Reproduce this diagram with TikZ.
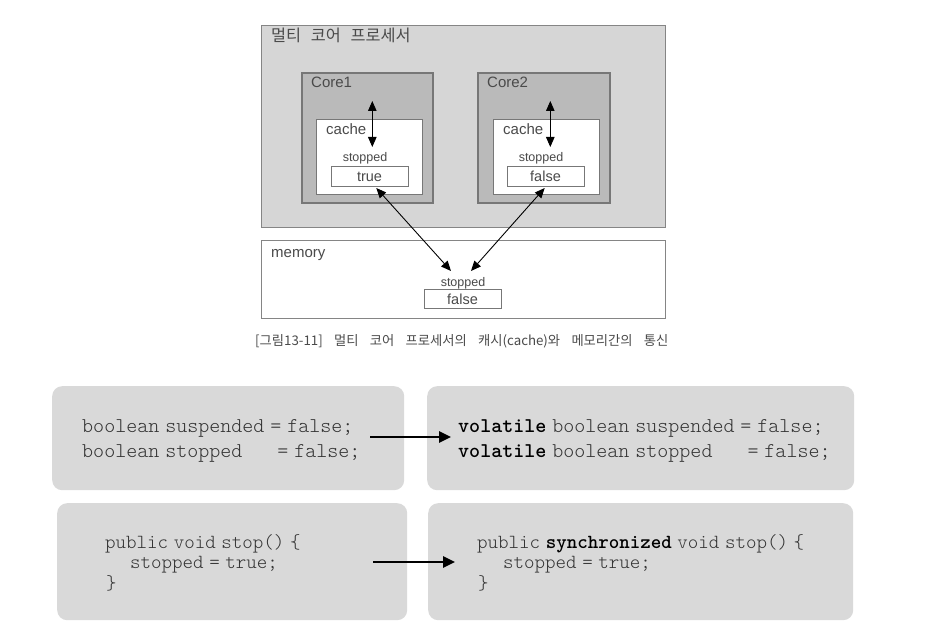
\documentclass[tikz,border=0pt]{standalone}
\usepackage{fontspec}
\setmainfont{Liberation Sans}
\newfontfamily\korfont{Noto Sans CJK KR}
\usetikzlibrary{arrows.meta}
\definecolor{procfill}{HTML}{D6D6D6}
\definecolor{corefill}{HTML}{BABABA}
\definecolor{edgegray}{HTML}{858585}
\definecolor{coreedge}{HTML}{777777}
\definecolor{diagtxt}{HTML}{4A4A4A}
\definecolor{codefill}{HTML}{D9D9D9}
\definecolor{codetxt}{HTML}{333333}
\newcommand{\kspace}{\hspace{0.6em}}
\newcommand{\capspace}{\hspace{0.85em}}
\newcommand{\kw}[1]{\textcolor{black}{\bfseries #1}}
\protected\def\codebigfont{\ttfamily\fontseries{l}\fontsize{21}{23}\selectfont\spaceskip=5.9pt\relax}
\protected\def\codesmallfont{\ttfamily\fontseries{l}\fontsize{20}{22}\selectfont\spaceskip=5.6pt\relax}
\tikzset{
  blk/.style={rectangle, anchor=north west, inner sep=0pt},
  procbox/.style={blk, draw=edgegray, line width=1.2pt, fill=procfill},
  corebox/.style={blk, draw=coreedge, line width=1.6pt, fill=corefill},
  whitebox/.style={blk, draw=coreedge, line width=1pt, fill=white},
  valbox/.style={blk, draw=coreedge, line width=0.9pt, fill=white},
  lbl/.style={anchor=base west, inner sep=0pt, text=diagtxt, font=\fontsize{15}{17}\selectfont},
  smalllbl/.style={anchor=base, inner sep=0pt, text=diagtxt, font=\fontsize{12.5}{14}\selectfont},
  vallbl/.style={anchor=base, inner sep=0pt, text=diagtxt, font=\fontsize{14.5}{16}\selectfont},
  dblarrow/.style={line width=0.9pt, {Triangle[length=10pt,width=8.5pt]}-{Triangle[length=10pt,width=8.5pt]}},
  codebox/.style={blk, rounded corners=10pt, fill=codefill, draw=none},
  codeline/.style={anchor=base west, inner sep=0pt, text=codetxt},
  bigcode/.style={codeline, font=\codebigfont},
  smallcode/.style={codeline, font=\codesmallfont},
  fatarrow/.style={line width=2.6pt, -{Triangle[length=12pt,width=11pt]}},
}
\begin{document}
\begin{tikzpicture}[x=1pt,y=-1pt]
\useasboundingbox (0,0) rectangle (944,628);
% ---- multi-core processor diagram ----
\node[procbox, minimum width=404pt, minimum height=202pt] (proc) at (261,25) {};
\node[lbl, font=\korfont\fontsize{16.3}{18}\selectfont] (proctitle) at (271,42) {멀티\kspace 코어\kspace 프로세서};

\node[corebox, minimum width=131pt, minimum height=130pt] (core1) at (301,72) {};
\node[corebox, minimum width=132pt, minimum height=130pt] (core2) at (477,72) {};
\node[lbl] (core1lbl) at (311,88) {Core1};
\node[lbl] (core2lbl) at (487,88) {Core2};

\node[whitebox, minimum width=106pt, minimum height=75pt] (cache1) at (316,119) {};
\node[whitebox, minimum width=106pt, minimum height=75pt] (cache2) at (493,119) {};
\node[lbl] (cache1lbl) at (326,135) {cache};
\node[lbl] (cache2lbl) at (503,135) {cache};
\node[smalllbl] (stop1) at (365,162) {stopped};
\node[smalllbl] (stop2) at (541,162) {stopped};
\node[valbox, minimum width=77pt, minimum height=20pt] (val1) at (331,166) {};
\node[valbox, minimum width=77pt, minimum height=20pt] (val2) at (507,166) {};
\node[vallbl] (val1txt) at (369.5,182) {true};
\node[vallbl] (val2txt) at (545.5,182) {false};

% memory
\node[whitebox, draw=edgegray, line width=1.2pt, minimum width=404pt, minimum height=78pt] (mem) at (261,240) {};
\node[lbl] (memlbl) at (271,258) {memory};
\node[smalllbl] (memstop) at (463,286) {stopped};
\node[valbox, minimum width=77pt, minimum height=19pt] (memval) at (424,289) {};
\node[vallbl] (memvaltxt) at (462.5,304) {false};

% arrows
\coordinate (c1top) at (372.3,101);
\coordinate (c1bot) at (372.3,147);
\coordinate (c2top) at (550.3,101);
\coordinate (c2bot) at (550.3,147);
\draw[dblarrow] (c1top) -- (c1bot);
\draw[dblarrow] (c2top) -- (c2bot);
\coordinate (v1tip) at (376.3,188);
\coordinate (v2tip) at (544.7,188);
\coordinate (m1tip) at (451,271);
\coordinate (m2tip) at (471,271);
\draw[dblarrow] (v1tip) -- (m1tip);
\draw[dblarrow] (v2tip) -- (m2tip);

% caption
\node[anchor=base west, inner sep=0pt, text=diagtxt, font=\korfont\fontsize{13.3}{15}\selectfont] (caption) at (255,345)
  {[그림13-11]\capspace 멀티\capspace 코어\capspace 프로세서의\capspace 캐시(cache)와\capspace 메모리간의\capspace 통신};

% ---- code boxes ----
\node[codebox, minimum width=352pt, minimum height=104pt] (cb1) at (52,386) {};
\node[codebox, minimum width=427pt, minimum height=104pt] (cb2) at (427,386) {};
\node[codebox, minimum width=350pt, minimum height=117pt] (cb3) at (57,503) {};
\node[codebox, minimum width=425pt, minimum height=117pt] (cb4) at (428,503) {};

\node[bigcode] (cb1l1) at (82,432) {boolean suspended = false;};
\node[bigcode] (cb1l2) at (82,457) {boolean stopped\hspace{35pt}= false;};
\node[bigcode] (cb2l1) at (458,432) {\kw{volatile} boolean suspended = false;};
\node[bigcode] (cb2l2) at (458,457) {\kw{volatile} boolean stopped\hspace{35pt}= false;};

\node[smallcode] (cb3l1) at (105,548) {public void stop() \{};
\node[smallcode] (cb3l2) at (130,568.5) {stopped = true;};
\node[smallcode] (cb3l3) at (106,589) {\}};
\node[smallcode] (cb4l1) at (477,548) {public \kw{synchronized} void stop() \{};
\node[smallcode] (cb4l2) at (503,568.5) {stopped = true;};
\node[smallcode] (cb4l3) at (478,589) {\}};

\coordinate (a1s) at (370,437);
\coordinate (a1e) at (451,437);
\coordinate (a2s) at (373,562);
\coordinate (a2e) at (455,562);
\draw[fatarrow] (a1s) -- (a1e);
\draw[fatarrow] (a2s) -- (a2e);
\end{tikzpicture}
\end{document}
